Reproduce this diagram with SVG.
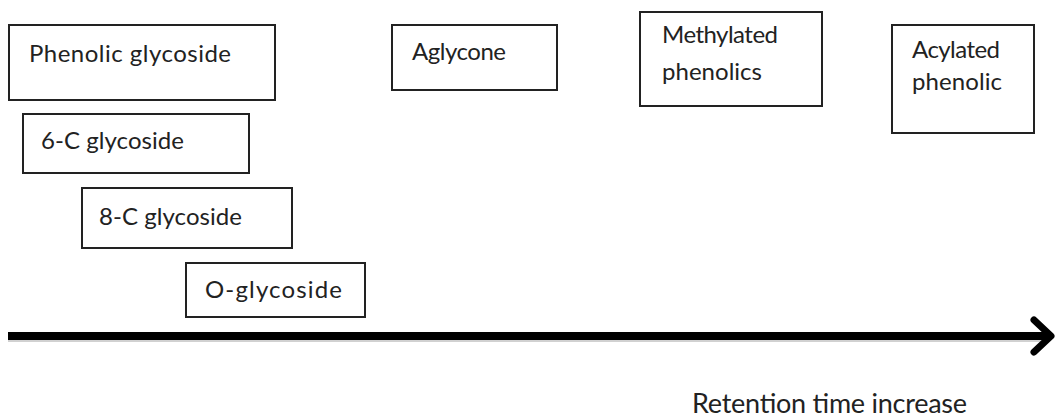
<svg xmlns="http://www.w3.org/2000/svg" width="1056" height="418" viewBox="0 0 1056 418">
<style>
.box{fill:#fff;stroke:#222;stroke-width:2}
.lbl{font-family:Lato,"Open Sans","Liberation Sans",sans-serif;font-size:24px;fill:#222}
.axis{font-family:Lato,"Open Sans","Liberation Sans",sans-serif;font-size:27px;fill:#222}
</style>
<rect width="1056" height="418" fill="#fff"/>
<g id="connectors">
<line x1="8" y1="338" x2="1048" y2="338" stroke="#000" stroke-opacity="0.18" stroke-width="8"/>
<line x1="8" y1="336" x2="1048" y2="336" stroke="#000" stroke-width="8"/>
<polyline points="1034,320 1051,336 1034,352" fill="none" stroke="#000" stroke-width="7" stroke-linecap="round" stroke-linejoin="round"/>
</g>
<g id="phenolic-glycoside"><rect class="box" x="9" y="25" width="266" height="75"/><text class="lbl" x="29" y="62" textLength="202" lengthAdjust="spacing">Phenolic glycoside</text></g>
<g id="c6-glycoside"><rect class="box" x="23" y="114" width="226" height="59"/><text class="lbl" x="41" y="149" textLength="143" lengthAdjust="spacing">6-C glycoside</text></g>
<g id="c8-glycoside"><rect class="box" x="82" y="188" width="210" height="60"/><text class="lbl" x="99" y="225" textLength="143" lengthAdjust="spacing">8-C glycoside</text></g>
<g id="o-glycoside"><rect class="box" x="186" y="263" width="179" height="54"/><text class="lbl" x="205" y="298" textLength="137" lengthAdjust="spacing">O-glycoside</text></g>
<g id="aglycone"><rect class="box" x="392" y="25" width="165" height="65"/><text class="lbl" x="412" y="60" textLength="94" lengthAdjust="spacing">Aglycone</text></g>
<g id="methylated"><rect class="box" x="640" y="12" width="182" height="94"/><text class="lbl" x="662" y="43" textLength="116" lengthAdjust="spacing">Methylated</text><text class="lbl" x="662" y="80" textLength="100" lengthAdjust="spacing">phenolics</text></g>
<g id="acylated"><rect class="box" x="892" y="25" width="142" height="108"/><text class="lbl" x="912" y="58" textLength="88" lengthAdjust="spacing">Acylated</text><text class="lbl" x="912" y="90" textLength="90" lengthAdjust="spacing">phenolic</text></g>
<text class="axis" x="692" y="413" textLength="275" lengthAdjust="spacing">Retention time increase</text>
</svg>
